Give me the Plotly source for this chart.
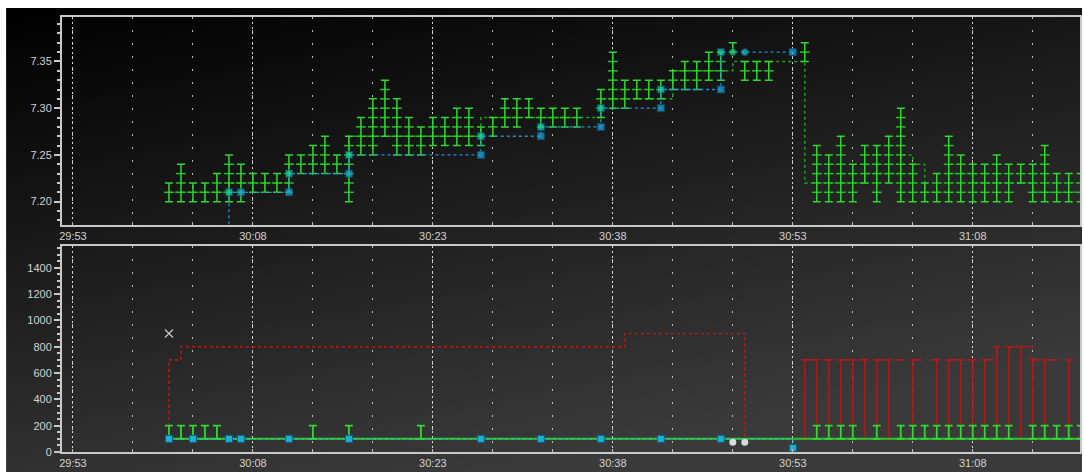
import base64
import numpy as np
import plotly.graph_objects as go

# ---------------- data (x = seconds after 29:53) ----------------
tick_seconds = [0, 15, 30, 45, 60, 75]
tick_labels = ["29:53", "30:08", "30:23", "30:38", "30:53", "31:08"]

quote_t = [8, 9, 10, 11, 12, 13, 14, 15, 16, 17, 18, 19, 20, 21, 22, 23, 24, 25, 26, 27,
           28, 29, 30, 31, 32, 33, 34, 35, 36, 37, 38, 39, 40, 41, 42,
           44, 45, 46, 47, 48, 49, 50, 51, 52, 53, 54, 55, 56, 57, 58,
           61, 62, 63, 64, 65, 66, 67, 68, 69, 70, 71, 72, 73, 74, 75, 76, 77, 78, 79, 80,
           81, 82, 83, 84]
quote_low = [7.20, 7.20, 7.20, 7.20, 7.20, 7.20, 7.20, 7.21, 7.21, 7.21, 7.21, 7.23, 7.23, 7.23, 7.23,
             7.20, 7.25, 7.25, 7.27, 7.25, 7.25, 7.25, 7.26, 7.26, 7.26, 7.26, 7.26, 7.27, 7.28, 7.28,
             7.29, 7.28, 7.28, 7.28, 7.28,
             7.29, 7.30, 7.30, 7.31, 7.31, 7.31, 7.32, 7.32, 7.32, 7.33, 7.33, 7.36, 7.33, 7.33, 7.33,
             7.35, 7.20, 7.20, 7.20, 7.20, 7.22, 7.20, 7.22, 7.20, 7.20, 7.20, 7.20, 7.20, 7.20, 7.20,
             7.20, 7.20, 7.20, 7.22, 7.20, 7.20, 7.20, 7.20, 7.20]
quote_high = [7.22, 7.24, 7.22, 7.22, 7.23, 7.25, 7.24, 7.23, 7.23, 7.23, 7.25, 7.25, 7.26, 7.27, 7.25,
              7.27, 7.29, 7.31, 7.33, 7.31, 7.29, 7.28, 7.29, 7.29, 7.30, 7.30, 7.28, 7.29, 7.31, 7.31,
              7.31, 7.30, 7.30, 7.30, 7.30,
              7.32, 7.36, 7.33, 7.33, 7.33, 7.33, 7.34, 7.35, 7.35, 7.36, 7.36, 7.37, 7.35, 7.35, 7.35,
              7.37, 7.26, 7.25, 7.27, 7.24, 7.26, 7.26, 7.27, 7.30, 7.24, 7.22, 7.23, 7.27, 7.25, 7.24,
              7.24, 7.25, 7.24, 7.24, 7.24, 7.26, 7.23, 7.23, 7.23]
quote_level = [7.21] * 5 + [7.22] * 5 + [7.24] * 5 + [7.27] * 11 + [7.29] * 9 + \
              [7.31] * 6 + [7.34] * 5 + [7.35] + [7.35] * 3 + \
              [7.22] + [7.22] * 4 + [7.23] * 3 + [7.25] + [7.24] + [7.21] * 2 + [7.23] * 2 + \
              [7.22] * 5 + [7.21] * 5

trade_t = [13, 13, 14, 18, 18, 23, 23, 34, 34, 39, 39, 44, 44, 49, 49, 54, 54, 55, 56, 60]
trade_px = [7.15, 7.21, 7.21, 7.21, 7.23, 7.23, 7.25, 7.25, 7.27, 7.27, 7.28, 7.28, 7.30,
            7.30, 7.32, 7.32, 7.36, 7.36, 7.36, 7.36]

vol_t = [8, 10, 13, 14, 18, 23, 34, 39, 44, 49, 54, 60]
vol_size = [100, 100, 100, 100, 100, 100, 100, 100, 100, 100, 100, 30]
odd_t = [55, 56]
odd_size = [75, 75]

base_size = 100
bid_bar_t = [8, 9, 10, 11, 12, 20, 23, 29, 62, 63, 64, 65, 67, 69, 70, 71, 72, 73, 74, 75,
             76, 77, 78, 80, 81, 82, 83, 84]
bid_bar_top = [200] * len(bid_bar_t)

ask_step_t = [8, 8, 9, 46, 56]
ask_step_size = [200, 700, 800, 900, 100]
ask_bar_t = [61, 62, 63, 64, 65, 66, 67, 68, 70, 72, 73, 74, 75, 76, 77, 78, 79, 80, 81, 83]
ask_bar_top = [700] * 14 + [800] * 3 + [700] * 3
cancel_t = [8]
cancel_size = [900]

# ---------------- figure ----------------
W, H = 1084, 472
ML, MR, MT, MB = 62, 2, 17, 20
PW, PH = W - ML - MR, H - MT - MB
XR = [-0.915, 83.94]

GREEN = "#30d830"
GREEN_D = "#1f9e1f"
GREEN_T = "#28bf28"
BLUE = "#1e8fd8"
RED = "#b81818"
TXT = "#d2d2d2"

fig = go.Figure()

# top panel: quote level step line
fig.add_trace(go.Scatter(x=quote_t, y=quote_level, mode="lines", line_shape="hv",
                         line=dict(color=GREEN_D, width=1.5, dash="dot"),
                         xaxis="x", yaxis="y", hoverinfo="skip"))
# intermediate price ticks on each bar (every 0.01)
tx, ty = [], []
for t, lo, hi in zip(quote_t, quote_low, quote_high):
    for lv in np.arange(lo + 0.01, hi - 0.0049, 0.01):
        tx.append(t)
        ty.append(round(lv, 2))
fig.add_trace(go.Scatter(x=tx, y=ty, mode="markers",
                         marker=dict(symbol="line-ew", size=7,
                                     line=dict(color=GREEN_T, width=1.5)),
                         xaxis="x", yaxis="y", hoverinfo="skip"))
# quote range bars
fig.add_trace(go.Scatter(
    x=quote_t, y=quote_low, mode="markers", marker=dict(size=1, color="rgba(0,0,0,0)"),
    error_y=dict(type="data", symmetric=False,
                 array=[h - l for h, l in zip(quote_high, quote_low)],
                 arrayminus=[0] * len(quote_t), color=GREEN, thickness=1.5, width=4),
    xaxis="x", yaxis="y", hoverinfo="skip"))
# trades line
tcolors, tsyms, tsizes = [], [], []
for i, (t, p) in enumerate(zip(trade_t, trade_px)):
    up = i > 0 and p > trade_px[i - 1]
    tcolors.append("#1cd0a8" if up else "#1fa8e0")
    tsyms.append("circle" if t in (55, 56) else "square")
    tsizes.append(0 if i == 0 else 7)
tcolors[-3] = "#22d060"
tcolors[-2] = "#22c8d8"
fig.add_trace(go.Scatter(x=trade_t, y=trade_px, mode="lines+markers", line_shape="hv",
                         line=dict(color=BLUE, width=1.3, dash="dot"),
                         marker=dict(symbol=tsyms, size=tsizes, color=tcolors,
                                     line=dict(color="#0d5f8a", width=1)),
                         xaxis="x", yaxis="y", hoverinfo="skip"))

# bottom panel
fig.add_trace(go.Scatter(x=ask_step_t, y=ask_step_size, mode="lines", line_shape="hv",
                         line=dict(color=RED, width=1.6, dash="dot"),
                         xaxis="x2", yaxis="y2", hoverinfo="skip"))
fig.add_trace(go.Scatter(x=ask_bar_t, y=ask_bar_top, mode="lines", line_shape="hv",
                         line=dict(color=RED, width=1.5, dash="dash"),
                         xaxis="x2", yaxis="y2", hoverinfo="skip"))
fig.add_trace(go.Scatter(
    x=ask_bar_t, y=[base_size] * len(ask_bar_t), mode="markers",
    marker=dict(size=1, color="rgba(0,0,0,0)"),
    error_y=dict(type="data", symmetric=False,
                 array=[v - base_size for v in ask_bar_top],
                 arrayminus=[0] * len(ask_bar_t), color=RED, thickness=1.3, width=4),
    xaxis="x2", yaxis="y2", hoverinfo="skip"))
fig.add_trace(go.Scatter(x=quote_t, y=[base_size] * len(quote_t), mode="lines",
                         line=dict(color="#2ec82e", width=2),
                         xaxis="x2", yaxis="y2", hoverinfo="skip"))
fig.add_trace(go.Scatter(
    x=bid_bar_t, y=[base_size] * len(bid_bar_t), mode="markers",
    marker=dict(size=1, color="rgba(0,0,0,0)"),
    error_y=dict(type="data", symmetric=False,
                 array=[v - base_size for v in bid_bar_top],
                 arrayminus=[0] * len(bid_bar_t), color=GREEN, thickness=1.8, width=4),
    xaxis="x2", yaxis="y2", hoverinfo="skip"))
fig.add_trace(go.Scatter(x=vol_t, y=vol_size, mode="lines+markers", line_shape="hv",
                         line=dict(color="#34b8d8", width=1.4, dash="dot"),
                         marker=dict(symbol="square", size=7, color="#1fb0d0",
                                     line=dict(color="#0d5f8a", width=1)),
                         xaxis="x2", yaxis="y2", hoverinfo="skip"))
fig.add_trace(go.Scatter(x=odd_t, y=odd_size, mode="markers",
                         marker=dict(symbol="circle", size=7, color="#d4dcdc"),
                         xaxis="x2", yaxis="y2", hoverinfo="skip"))
fig.add_trace(go.Scatter(x=cancel_t, y=cancel_size, mode="markers",
                         marker=dict(symbol="x-thin", size=8,
                                     line=dict(color="#c8c8c8", width=1.2)),
                         xaxis="x2", yaxis="y2", hoverinfo="skip"))

# background gradient (as svg image)
bw, bh = 1078, 464
svg = (f'<svg xmlns="http://www.w3.org/2000/svg" width="{bw}" height="{bh}" '
       f'viewBox="0 0 {bw} {bh}" preserveAspectRatio="none"><defs>'
       '<linearGradient id="g" x1="0" y1="0" x2="0.45" y2="1">'
       '<stop offset="0" stop-color="#000000"/><stop offset="1" stop-color="#3a3a3a"/>'
       '</linearGradient></defs>'
       f'<rect width="{bw}" height="{bh}" fill="url(#g)"/></svg>')
src = "data:image/svg+xml;base64," + base64.b64encode(svg.encode()).decode()

font = dict(family="Liberation Sans, Arial, sans-serif", size=11, color=TXT)

def xaxis_cfg(anchor):
    return dict(anchor=anchor, domain=[0, 1], range=XR, tickmode="array",
                tickvals=tick_seconds, ticktext=tick_labels, ticks="", tickfont=font,
                showgrid=True, gridcolor="#d8d8d8", gridwidth=1.2, griddash="2px,3px",
                minor=dict(tickmode="array", tickvals=list(range(0, 85, 5)), showgrid=True,
                           gridcolor="#bcbcbc", gridwidth=1.4, griddash="2px,11px",
                           ticks="inside", ticklen=3, tickcolor="#bbbbbb"),
                showline=True, linecolor="#c8c8c8", linewidth=2, mirror=True,
                zeroline=False, fixedrange=True)

top_dom = [(H - MB - 225) / PH, 1]
bot_dom = [0, (H - MB - 246) / PH]

fig.update_layout(
    width=W, height=H, margin=dict(l=ML, r=MR, t=MT, b=MB),
    paper_bgcolor="#ffffff", plot_bgcolor="rgba(0,0,0,0)", showlegend=False,
    images=[dict(source=src, xref="paper", yref="paper",
                 x=(6 - ML) / PW, y=(H - MB - 8) / PH, sizex=bw / PW, sizey=bh / PH,
                 xanchor="left", yanchor="top", sizing="stretch", layer="below")],
    xaxis=xaxis_cfg("y"),
    xaxis2=xaxis_cfg("y2"),
    yaxis=dict(anchor="x", domain=top_dom, range=[7.175, 7.3976], tickmode="array",
               tickvals=[7.20, 7.25, 7.30, 7.35], ticktext=["7.20", "7.25", "7.30", "7.35"],
               ticks="outside", ticklen=6, tickwidth=1.5, tickcolor="#c8c8c8", tickfont=font,
               minor=dict(tickmode="linear", tick0=7.20, dtick=0.01, ticks="outside",
                          ticklen=3, tickcolor="#c8c8c8"),
               showgrid=False, showline=True, linecolor="#c8c8c8", linewidth=2,
               mirror=True, zeroline=False, fixedrange=True),
    yaxis2=dict(anchor="x2", domain=bot_dom, range=[0, 1565], tickmode="array",
                tickvals=[0, 200, 400, 600, 800, 1000, 1200, 1400],
                ticks="outside", ticklen=6, tickwidth=1.5, tickcolor="#c8c8c8", tickfont=font,
                minor=dict(tickmode="linear", tick0=0, dtick=50, ticks="outside",
                           ticklen=3, tickcolor="#c8c8c8"),
                showgrid=False, showline=True, linecolor="#c8c8c8", linewidth=2,
                mirror=True, zeroline=False, fixedrange=True),
)

fig.write_html("out.html")
